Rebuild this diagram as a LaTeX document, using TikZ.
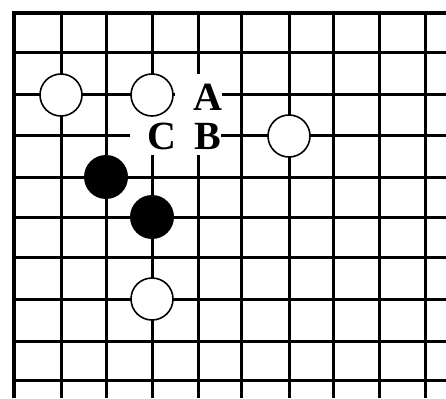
\documentclass[tikz,border=0pt]{standalone}
\usepackage{fontspec}
\newfontfamily\lblfont{Liberation Serif}
\begin{document}
\begin{tikzpicture}[x=1pt,y=-1pt,
  gridline/.style={line width=3pt,black},
  borderline/.style={line width=4.5pt,black},
  whitestone/.style={circle,draw=black,fill=white,line width=1.6pt,minimum size=42pt,inner sep=0pt},
  blackstone/.style={circle,fill=black,minimum size=44pt,inner sep=0pt},
  lbl/.style={inner sep=0pt,font=\lblfont\bfseries\fontsize{40}{40}\selectfont}]
\useasboundingbox (0,0) rectangle (446,398);
\fill[white] (0,0) rectangle (446,398);
% grid
\foreach \x in {61,106,152,198,241,289,333,379,425}
  \draw[gridline] (\x,13) -- (\x,398);
\foreach \y in {53,95,136,177,217,257,299,341,380}
  \draw[gridline] (14,\y) -- (446,\y);
\draw[borderline] (14,398) -- (14,13) -- (446,13);
% cleared areas behind the letters
\fill[white] (175,74) rectangle (222,115);
\fill[white] (130,115) rectangle (221,155);
% stones
\node[whitestone] (w1) at (61,95) {};
\node[whitestone] (w2) at (152,95) {};
\node[whitestone] (w3) at (289,136) {};
\node[whitestone] (w4) at (152,299) {};
\node[blackstone] (b1) at (106,177) {};
\node[blackstone] (b2) at (152,217) {};
% labels
\node[lbl] (la) at (207.5,97) {A};
\node[lbl] (lb) at (207.5,136) {B};
\node[lbl] (lc) at (162,136) {C};
\end{tikzpicture}
\end{document}
